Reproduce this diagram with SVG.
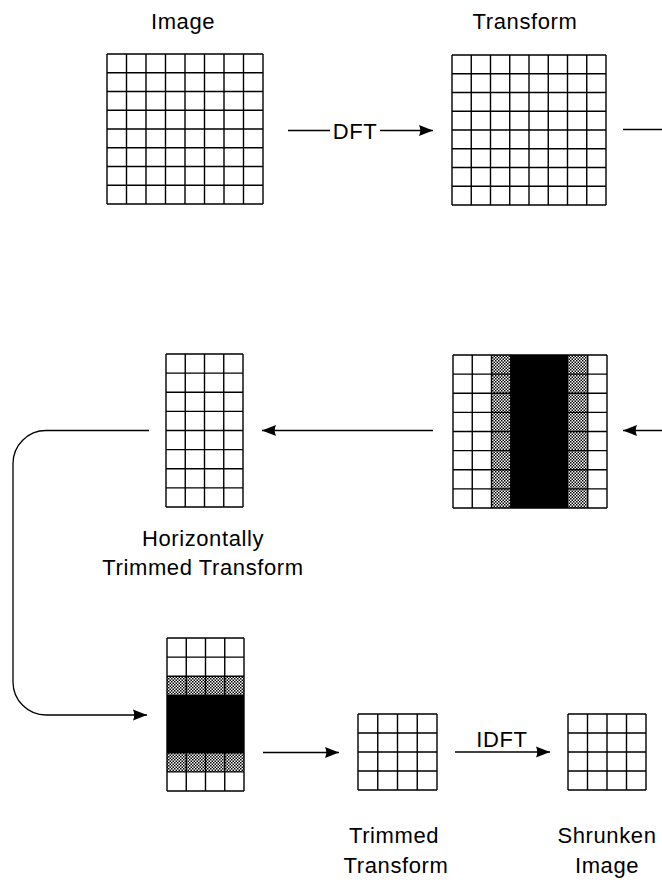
<svg xmlns="http://www.w3.org/2000/svg" width="662" height="884" viewBox="0 0 662 884">
<style>
.g{fill:none;stroke:#000;stroke-width:1.4}
.c{fill:none;stroke:#000;stroke-width:1.3}
.t{font-family:"Liberation Sans",Arial,sans-serif;font-size:22px;letter-spacing:0.6px;fill:#000;text-anchor:middle}
.blk{fill:#000}
.stp{fill:url(#stip)}
</style>
<defs>
<pattern id="stip" width="3" height="3" patternUnits="userSpaceOnUse">
<rect width="3" height="3" fill="#fff"/>
<rect x="0" y="0" width="1.5" height="1.5" fill="#000"/>
<rect x="1.5" y="1.5" width="1.5" height="1.5" fill="#000"/>
</pattern>
<marker id="ah" markerUnits="userSpaceOnUse" markerWidth="15" markerHeight="12" refX="14" refY="6" orient="auto">
<path d="M0,0.5 L14,6 L0,11.5 Q2.5,6 0,0.5 Z" fill="#000"/>
</marker>
</defs>
<rect width="662" height="884" fill="#fff"/>

<g id="image">
<text class="t" x="183" y="29">Image</text>
<path class="g" d="M107,54V204M126.5,54V204M146,54V204M165.5,54V204M185,54V204M204.5,54V204M224,54V204M243.5,54V204M263,54V204M107,54H263M107,72.75H263M107,91.5H263M107,110.25H263M107,129H263M107,147.75H263M107,166.5H263M107,185.25H263M107,204H263"/>
</g>

<g id="transform">
<text class="t" x="525" y="29">Transform</text>
<path class="g" d="M452,55V205M471.25,55V205M490.5,55V205M509.75,55V205M529,55V205M548.25,55V205M567.5,55V205M586.75,55V205M606,55V205M452,55H606M452,73.75H606M452,92.5H606M452,111.25H606M452,130H606M452,148.75H606M452,167.5H606M452,186.25H606M452,205H606"/>
</g>

<g id="masked-transform">
<rect class="stp" x="491.5" y="355" width="19.25" height="153"/>
<rect class="stp" x="568.5" y="355" width="19.25" height="153"/>
<path class="g" d="M453,355V508M472.25,355V508M491.5,355V508M510.75,355V508M587.75,355V508M607,355V508M453,355H607M453,374.125H607M453,393.25H607M453,412.375H607M453,431.5H607M453,450.625H607M453,469.75H607M453,488.875H607M453,508H607"/>
<rect class="blk" x="510.75" y="355" width="57.75" height="153"/>
</g>

<g id="horizontally-trimmed">
<path class="g" d="M166,354V507M185.25,354V507M204.5,354V507M223.75,354V507M243,354V507M166,354H243M166,373.125H243M166,392.25H243M166,411.375H243M166,430.5H243M166,449.625H243M166,468.75H243M166,487.875H243M166,507H243"/>
<text class="t" x="203" y="546">Horizontally</text>
<text class="t" x="203" y="575">Trimmed Transform</text>
</g>

<g id="vertically-masked">
<rect class="stp" x="167" y="676.25" width="77" height="19.125"/>
<rect class="stp" x="167" y="752.75" width="77" height="19.125"/>
<path class="g" d="M167,638V791M186.25,638V791M205.5,638V791M224.75,638V791M244,638V791M167,638H244M167,657.125H244M167,676.25H244M167,695.375H244M167,752.75H244M167,771.875H244M167,791H244"/>
<rect class="blk" x="167" y="695.375" width="77" height="57.375"/>
</g>

<g id="trimmed-transform">
<path class="g" d="M358,714V790M377.75,714V790M397.5,714V790M417.25,714V790M437,714V790M358,714H437M358,733H437M358,752H437M358,771H437M358,790H437"/>
<text class="t" x="394" y="843">Trimmed</text>
<text class="t" x="396" y="873">Transform</text>
</g>

<g id="shrunken-image">
<path class="g" d="M568,714V790M587.5,714V790M607,714V790M626.5,714V790M646,714V790M568,714H646M568,733H646M568,752H646M568,771H646M568,790H646"/>
<text class="t" x="607" y="843">Shrunken</text>
<text class="t" x="607" y="873">Image</text>
</g>

<g id="connectors">
<path class="c" d="M288,130.5H330"/>
<text class="t" x="355" y="139">DFT</text>
<path class="c" d="M380,130.5H433" marker-end="url(#ah)"/>
<path class="c" d="M623,129.5H662"/>
<path class="c" d="M662,430.5H623" marker-end="url(#ah)"/>
<path class="c" d="M433,430.5H262" marker-end="url(#ah)"/>
<path class="c" d="M149,430.5H46A33,33 0 0 0 13,463.5V682A33,33 0 0 0 46,715H147" marker-end="url(#ah)"/>
<path class="c" d="M263,752.5H339" marker-end="url(#ah)"/>
<path class="c" d="M455,752H550" marker-end="url(#ah)"/>
<text class="t" x="502" y="747">IDFT</text>
</g>
</svg>
